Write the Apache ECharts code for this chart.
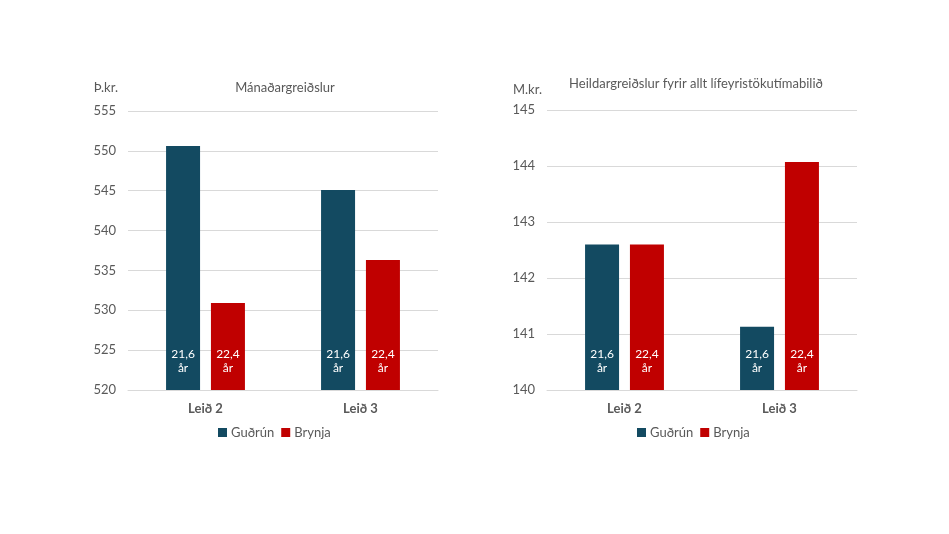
<!DOCTYPE html>
<html><head><meta charset="utf-8">
<script src="https://cdn.jsdelivr.net/npm/echarts@6/dist/echarts.min.js"></script>
<style>html,body{margin:0;padding:0;background:#fff}#c{width:949px;height:534px}</style>
</head><body><div id="c"></div>
<script>
const categories = ['Leið 2', 'Leið 3'];
const seriesNames = ['Guðrún', 'Brynja'];
const gudrunMonthly = [550.6, 545.1];
const brynjaMonthly = [530.9, 536.3];
const gudrunTotal = [142.6, 141.13];
const brynjaTotal = [142.6, 144.07];
const yearsLabels = ['21,6\når', '22,4\når'];
const leftTicks = {min: 520, max: 555, interval: 5};
const rightTicks = {min: 140, max: 145, interval: 1};

const colors = ['#134A61', '#C00000'];
const grey = '#595959';
const font = 'Lato, "Open Sans", sans-serif';

function bar(name, data, idx, label, color) {
  return {
    name: name, type: 'bar', xAxisIndex: idx, yAxisIndex: idx, data: data,
    barWidth: 34, barGap: '32%',
    itemStyle: {color: color},
    label: {show: true, position: 'insideBottom', distance: 15, formatter: label,
      color: '#fff', fontSize: 12, lineHeight: 14, fontFamily: font}
  };
}
const legendBase = {data: seriesNames, top: 421, itemWidth: 9, itemHeight: 9, itemGap: 7,
  icon: 'rect', textStyle: {color: grey, fontSize: 13, fontFamily: font, padding: [0, 0, 0, -1]}};
const chart = echarts.init(document.getElementById('c'));
chart.setOption({
  animation: false,
  textStyle: {fontFamily: font},
  title: [
    {text: 'Mánaðargreiðslur', left: 280, top: 76, textAlign: 'center',
     textStyle: {color: grey, fontSize: 13, fontWeight: 'normal', fontFamily: font}},
    {text: 'Heildargreiðslur fyrir allt lífeyristökutímabilið', left: 691, top: 72, textAlign: 'center',
     textStyle: {color: grey, fontSize: 13, fontWeight: 'normal', fontFamily: font}}
  ],
  legend: [
    Object.assign({}, legendBase, {left: 213}),
    Object.assign({}, legendBase, {left: 632})
  ],
  grid: [
    {left: 128, width: 310, top: 111, height: 279},
    {left: 547, width: 310, top: 110, height: 280}
  ],
  xAxis: [0, 1].map(i => ({
    type: 'category', gridIndex: i, data: categories,
    axisLine: {lineStyle: {color: '#d9d9d9'}}, axisTick: {show: false},
    axisLabel: {color: grey, fontSize: 13, fontWeight: 'bold', margin: 12, fontFamily: font}
  })),
  yAxis: [
    {type: 'value', gridIndex: 0, min: leftTicks.min, max: leftTicks.max, interval: leftTicks.interval,
     name: 'Þ.kr.', nameLocation: 'end', nameGap: 17,
     nameTextStyle: {color: grey, fontSize: 13, align: 'right', padding: [0, 10, 0, 0], fontFamily: font},
     axisLabel: {color: grey, fontSize: 13, margin: 12, fontFamily: font},
     splitLine: {lineStyle: {color: '#d9d9d9'}}, axisLine: {show: false}, axisTick: {show: false}},
    {type: 'value', gridIndex: 1, min: rightTicks.min, max: rightTicks.max, interval: rightTicks.interval,
     name: 'M.kr.', nameLocation: 'end', nameGap: 14,
     nameTextStyle: {color: grey, fontSize: 13, align: 'right', padding: [0, 5, 0, 0], fontFamily: font},
     axisLabel: {color: grey, fontSize: 13, margin: 12, fontFamily: font},
     splitLine: {lineStyle: {color: '#d9d9d9'}}, axisLine: {show: false}, axisTick: {show: false}}
  ],
  series: [
    bar(seriesNames[0], gudrunMonthly, 0, yearsLabels[0], colors[0]),
    bar(seriesNames[1], brynjaMonthly, 0, yearsLabels[1], colors[1]),
    bar(seriesNames[0], gudrunTotal, 1, yearsLabels[0], colors[0]),
    bar(seriesNames[1], brynjaTotal, 1, yearsLabels[1], colors[1])
  ]
});
</script></body></html>
